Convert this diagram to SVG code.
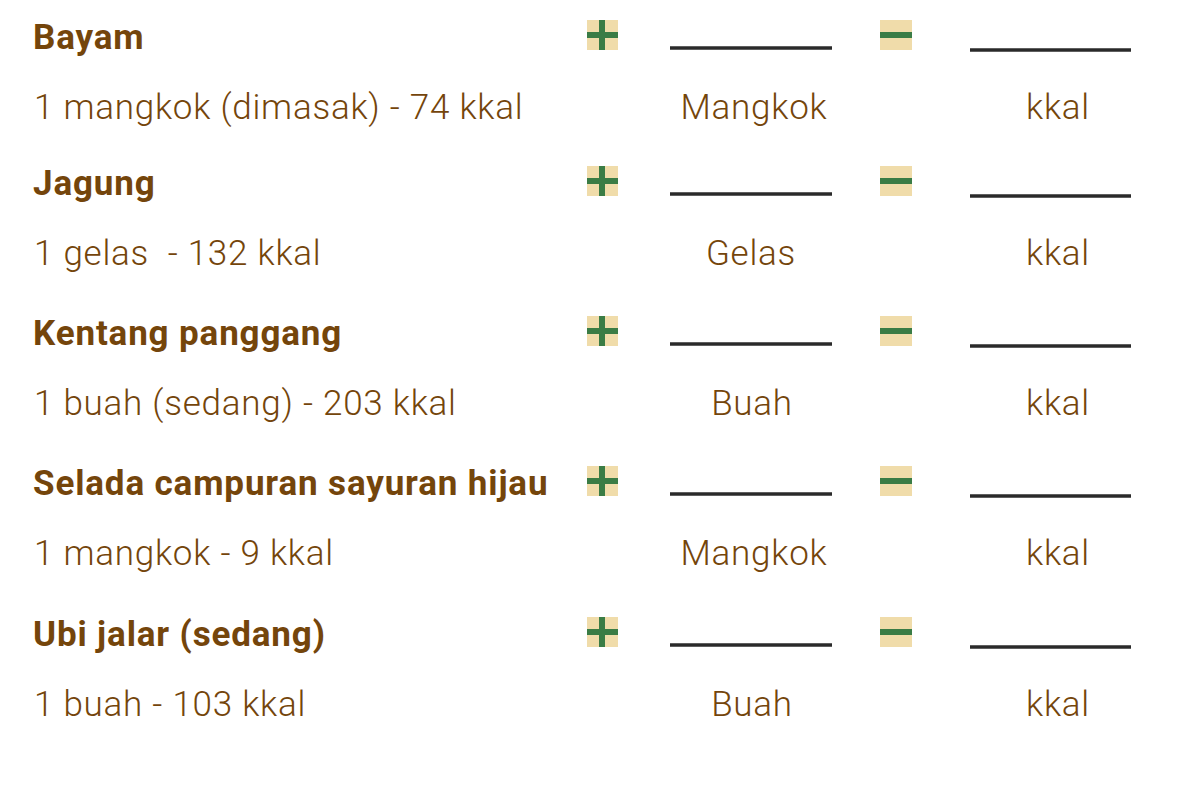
<svg xmlns="http://www.w3.org/2000/svg" width="1186" height="788" viewBox="0 0 1186 788">
<style>
.h{font-family:Roboto,"Liberation Sans",sans-serif;font-weight:700;font-size:35px;letter-spacing:0.85px;fill:#74450b}
.t{font-family:Roboto,"Liberation Sans",sans-serif;font-weight:300;font-size:35px;letter-spacing:0.75px;fill:#74450b;white-space:pre}
.c{text-anchor:middle}
.box{fill:#f0dcaa}
.bar{fill:#3a7c45}
.ln{stroke:#2a2a2a;stroke-width:3.5}
</style>
<defs>
<g id="plus"><rect class="box" x="0" y="0" width="31" height="30"/><rect class="bar" x="12" y="0" width="6" height="30"/><rect class="bar" x="0" y="12" width="31" height="6"/></g>
<g id="minus"><rect class="box" x="0" y="0" width="32" height="30"/><rect class="bar" x="0" y="12" width="32" height="6"/></g>
</defs>
<rect width="1186" height="788" fill="#fff"/>
<g id="row1" transform="translate(0,0)">
<text class="h" x="33" y="49">Bayam</text>
<text class="t" x="34" y="119">1 mangkok (dimasak) - 74 kkal</text>
<use href="#plus" x="587" y="20"/><use href="#minus" x="880" y="20"/>
<line class="ln" x1="670" y1="48" x2="832" y2="48"/><line class="ln" x1="970" y1="50" x2="1131" y2="50"/>
<text class="t c" x="754" y="119">Mangkok</text><text class="t c" x="1058" y="119">kkal</text>
</g>
<g id="row2" transform="translate(0,146)">
<text class="h" x="33" y="49">Jagung</text>
<text class="t" x="34" y="119" xml:space="preserve">1 gelas  - 132 kkal</text>
<use href="#plus" x="587" y="20"/><use href="#minus" x="880" y="20"/>
<line class="ln" x1="670" y1="48" x2="832" y2="48"/><line class="ln" x1="970" y1="50" x2="1131" y2="50"/>
<text class="t c" x="751" y="119">Gelas</text><text class="t c" x="1058" y="119">kkal</text>
</g>
<g id="row3" transform="translate(0,296)">
<text class="h" x="33" y="49">Kentang panggang</text>
<text class="t" x="34" y="119">1 buah (sedang) - 203 kkal</text>
<use href="#plus" x="587" y="20"/><use href="#minus" x="880" y="20"/>
<line class="ln" x1="670" y1="48" x2="832" y2="48"/><line class="ln" x1="970" y1="50" x2="1131" y2="50"/>
<text class="t c" x="752" y="119">Buah</text><text class="t c" x="1058" y="119">kkal</text>
</g>
<g id="row4" transform="translate(0,446)">
<text class="h" x="33" y="49">Selada campuran sayuran hijau</text>
<text class="t" x="34" y="119">1 mangkok - 9 kkal</text>
<use href="#plus" x="587" y="20"/><use href="#minus" x="880" y="20"/>
<line class="ln" x1="670" y1="48" x2="832" y2="48"/><line class="ln" x1="970" y1="50" x2="1131" y2="50"/>
<text class="t c" x="754" y="119">Mangkok</text><text class="t c" x="1058" y="119">kkal</text>
</g>
<g id="row5" transform="translate(0,597)">
<text class="h" x="33" y="49">Ubi jalar (sedang)</text>
<text class="t" x="34" y="119">1 buah - 103 kkal</text>
<use href="#plus" x="587" y="20"/><use href="#minus" x="880" y="20"/>
<line class="ln" x1="670" y1="48" x2="832" y2="48"/><line class="ln" x1="970" y1="50" x2="1131" y2="50"/>
<text class="t c" x="752" y="119">Buah</text><text class="t c" x="1058" y="119">kkal</text>
</g>
</svg>
